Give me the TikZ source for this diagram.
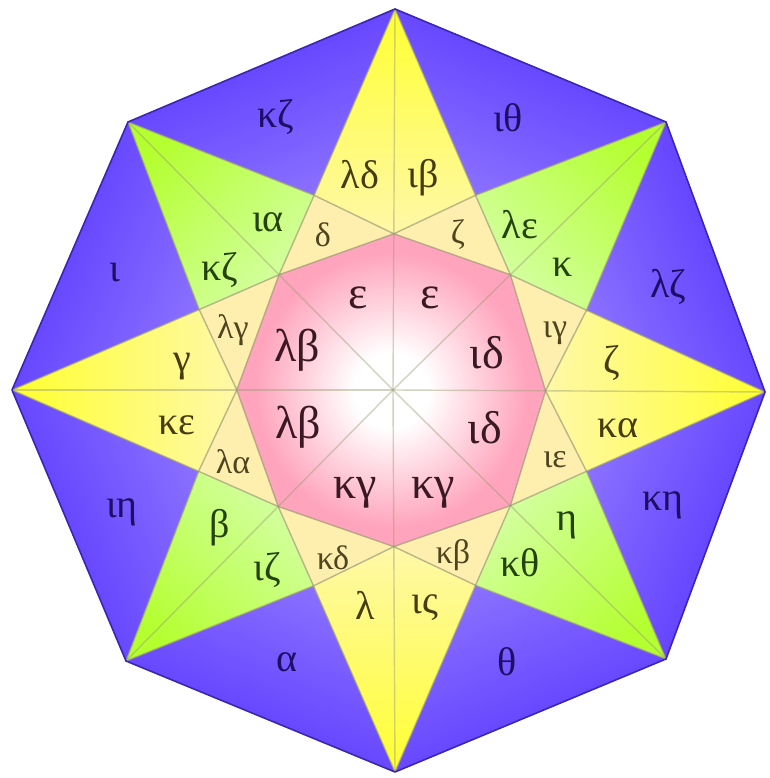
\documentclass[tikz,border=0pt]{standalone}
\usepackage{fontspec}
\setmainfont{Liberation Serif}
\usetikzlibrary{calc}
\definecolor{blueA}{HTML}{5634FF}
\definecolor{blueB}{HTML}{8A70FF}
\definecolor{yelA}{HTML}{FFFF30}
\definecolor{yelB}{HTML}{FFF8A8}
\definecolor{grnA}{HTML}{B4FF30}
\definecolor{grnB}{HTML}{D4FFA4}
\definecolor{paleY}{HTML}{FFEFAE}
\definecolor{pinkC}{HTML}{FFA4BC}
\definecolor{txtBlue}{HTML}{1E0E66}
\definecolor{txtGrn}{HTML}{24420C}
\definecolor{txtYel}{HTML}{463C12}
\definecolor{txtPale}{HTML}{4E4420}
\definecolor{txtPink}{HTML}{3A1824}
\definecolor{edgeC}{HTML}{9C9C74}
\definecolor{outerC}{HTML}{3A26B0}
\pgfdeclareradialshading{pinkglow}{\pgfpoint{0bp}{0bp}}{color(0bp)=(white); color(6bp)=(white); color(22bp)=(pinkC); color(50bp)=(pinkC)}
\tikzset{
  lab/.style={inner sep=0pt, font=\fontsize{40}{40}\selectfont},
  bluelab/.style={lab, text=txtBlue},
  grnlab/.style={lab, text=txtGrn},
  yellab/.style={lab, text=txtYel},
  palelab/.style={lab, text=txtPale, font=\fontsize{34}{34}\selectfont},
  pinklab/.style={lab, text=txtPink, font=\fontsize{46}{46}\selectfont},
  edgeline/.style={draw=edgeC, line width=1.4pt, draw opacity=0.7},
  outerline/.style={draw=outerC, line width=1.6pt, line join=round}
}
\begin{document}
\begin{tikzpicture}[x=1pt,y=1pt]
\useasboundingbox (0,0) rectangle (769,778);
\fill[white] (0,0) rectangle (769,778);
\coordinate (C) at (393,388);
\coordinate (O0) at (765,386);
\coordinate (O1) at (666,656);
\coordinate (O2) at (395,769);
\coordinate (O3) at (128,656);
\coordinate (O4) at (12,388);
\coordinate (O5) at (126,117);
\coordinate (O6) at (395,6);
\coordinate (O7) at (666,119);
\foreach \k in {0,...,7} {
  \pgfmathtruncatemacro{\n}{mod(\k+1,8)}
  \coordinate (M\k) at ($(O\k)!0.5!(O\n)$);
  \coordinate (P\k) at ($(C)!0.6!(M\k)$);
  \ifodd\k \def\rr{0.43}\else \def\rr{0.41}\fi
  \coordinate (I\k) at ($(C)!\rr!(O\k)$);
}
% blue triangles
\foreach \k in {0,...,7} {
  \pgfmathtruncatemacro{\n}{mod(\k+1,8)}
  \pgfmathsetmacro{\ang}{45*\k+22.5-90}
  \shade[top color=blueA, bottom color=blueB, shading angle=\ang] (O\k) -- (O\n) -- (P\k) -- cycle;
}
% kites
\foreach \k in {0,...,7} {
  \pgfmathtruncatemacro{\m}{mod(\k+7,8)}
  \pgfmathsetmacro{\ang}{45*\k-90}
  \ifodd\k \def\ca{grnA}\def\cb{grnB}\else \def\ca{yelA}\def\cb{yelB}\fi
  \shade[top color=\ca, bottom color=\cb, shading angle=\ang] (O\k) -- (P\k) -- (I\k) -- (P\m) -- cycle;
}
% pale triangles
\foreach \k in {0,...,7} {
  \pgfmathtruncatemacro{\n}{mod(\k+1,8)}
  \fill[paleY] (P\k) -- (I\k) -- (I\n) -- cycle;
}
% pink octagon
\shade[shading=pinkglow] (I0) -- (I1) -- (I2) -- (I3) -- (I4) -- (I5) -- (I6) -- (I7) -- cycle;
% edges
\foreach \k in {0,...,7} {
  \pgfmathtruncatemacro{\n}{mod(\k+1,8)}
  \draw[edgeline] (O\k) -- (P\k) -- (O\n);
  \draw[edgeline] (P\k) -- (I\k) -- (I\n) -- cycle;
  \draw[edgeline, draw opacity=0.45] (O\k) -- (C);
}
\draw[outerline] (O0) -- (O1) -- (O2) -- (O3) -- (O4) -- (O5) -- (O6) -- (O7) -- cycle;
% blue labels
\node[bluelab] (b1) at (276,661) {κζ};
\node[bluelab] (b2) at (508,660) {ιθ};
\node[bluelab] (b3) at (668,491) {λζ};
\node[bluelab] (b4) at (663,273) {κη};
\node[bluelab] (b5) at (507,116) {θ};
\node[bluelab] (b6) at (287,116) {α};
\node[bluelab] (b7) at (122,266) {ιη};
\node[bluelab] (b8) at (115,505) {ι};
% green labels
\node[grnlab] (g1) at (268,556) {ια};
\node[grnlab] (g2) at (220,508) {κζ};
\node[grnlab] (g3) at (520,553) {λε};
\node[grnlab] (g4) at (563,511) {κ};
\node[grnlab] (g5) at (567,253) {η};
\node[grnlab] (g6) at (520,215) {κθ};
\node[grnlab] (g7) at (220,250) {β};
\node[grnlab] (g8) at (267,208) {ιζ};
% yellow labels
\node[yellab] (y1) at (360,603) {λδ};
\node[yellab] (y2) at (423,600) {ιβ};
\node[yellab] (y3) at (612,415) {ζ};
\node[yellab] (y4) at (618,350) {κα};
\node[yellab] (y5) at (365,173) {λ};
\node[yellab] (y6) at (425,170) {ις};
\node[yellab] (y7) at (182,411) {γ};
\node[yellab] (y8) at (177,353) {κε};
% pale labels
\node[palelab] (p1) at (323,543) {δ};
\node[palelab] (p2) at (458,543) {ζ};
\node[palelab] (p3) at (555,445) {ιγ};
\node[palelab] (p4) at (555,318) {ιε};
\node[palelab] (p5) at (453,223) {κβ};
\node[palelab] (p6) at (333,220) {κδ};
\node[palelab] (p7) at (233,316) {λα};
\node[palelab] (p8) at (233,448) {λγ};
% pink labels
\node[pinklab] (k1) at (358,480) {ε};
\node[pinklab] (k2) at (430,480) {ε};
\node[pinklab] (k3) at (297,428) {λβ};
\node[pinklab] (k4) at (298,351) {λβ};
\node[pinklab] (k5) at (487,425) {ιδ};
\node[pinklab] (k6) at (485,350) {ιδ};
\node[pinklab] (k7) at (355,285) {κγ};
\node[pinklab] (k8) at (433,285) {κγ};
\end{tikzpicture}
\end{document}
